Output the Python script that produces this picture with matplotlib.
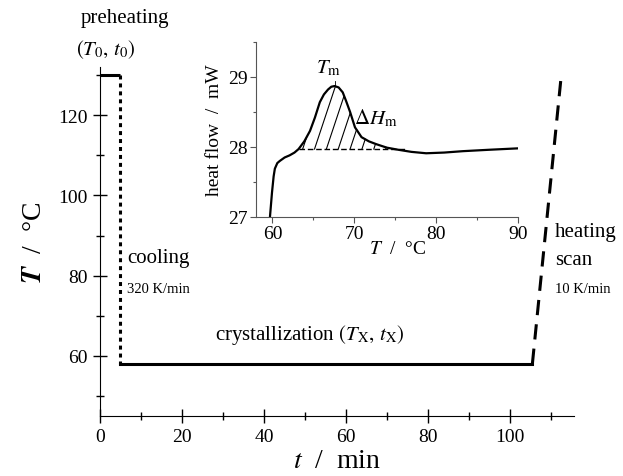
import numpy as np
import matplotlib
matplotlib.use("Agg")
import matplotlib.pyplot as plt
from matplotlib.ticker import MultipleLocator

plt.rcParams['font.family'] = ['Liberation Serif', 'DejaVu Serif']
plt.rcParams['mathtext.fontset'] = 'stix'

# temperature programme (time in min, T in degC)
preheat_t = [0, 5]
preheat_T = [130, 130]
cool_t = [5, 5]
cool_T = [130, 58]
cryst_t = [5, 105.5]
cryst_T = [58, 58]
heat_t = [105.5, 112.6]
heat_T = [58, 130.5]

# DSC melting curve (inset)
dsc_T = [59.7, 59.95, 60.15, 60.3, 60.6, 60.9, 61.5, 62.1, 62.7, 63.2, 63.9, 64.6,
         65.2, 65.8, 66.3, 66.8, 67.2, 67.6, 68.1, 68.6, 69.0, 69.5, 70.1, 70.9,
         71.8, 72.7, 74.0, 75.4, 77.0, 78.8, 81.0, 83.3, 86.5, 90.0]
dsc_hf = [27.00, 27.35, 27.58, 27.69, 27.77, 27.80, 27.85, 27.88, 27.92, 27.97, 28.08, 28.23,
          28.42, 28.64, 28.75, 28.82, 28.86, 28.87, 28.85, 28.78, 28.66, 28.50, 28.28, 28.14,
          28.08, 28.04, 27.99, 27.96, 27.93, 27.91, 27.92, 27.94, 27.96, 27.98]
base_hf = 27.97
base_T = [63.2, 76.5]
peak_T = 67.6
peak_hf = 28.87

fig = plt.figure(figsize=(6.23, 4.77), dpi=100)
ax = fig.add_axes([0.1605, 0.126, 0.7605, 0.731])

ax.plot(preheat_t, preheat_T, color='black', lw=2.2, solid_capstyle='butt')
ax.plot(cool_t, cool_T, color='black', lw=2.2, linestyle=(0, (1.3, 1.3)))
ax.plot(cryst_t, cryst_T, color='black', lw=2.2, solid_joinstyle='miter')
ax.plot(heat_t, heat_T, color='black', lw=2.2, linestyle=(0, (5, 3)))

ax.set_xlim(0, 115.6)
ax.set_ylim(45, 132)
ax.spines['top'].set_visible(False)
ax.spines['right'].set_visible(False)
ax.xaxis.set_major_locator(MultipleLocator(20))
ax.xaxis.set_minor_locator(MultipleLocator(10))
ax.yaxis.set_major_locator(MultipleLocator(20))
ax.yaxis.set_minor_locator(MultipleLocator(10))
ax.tick_params(which='major', direction='inout', length=10, width=1, labelsize=14, pad=4)
ax.tick_params(which='minor', direction='inout', length=6, width=1)
ax.set_xlabel('$t$  /  min', fontsize=20, labelpad=2)
ax.set_ylabel(r'$\mathbfit{T}$  /  °C', fontsize=20, labelpad=8)

ax.text(6.1, 144.3, 'preheating', fontsize=15, ha='center', va='center', clip_on=False)
ax.text(1.5, 136.6, '$(T_0,\\,t_0)$', fontsize=15, ha='center', va='center', clip_on=False)
ax.text(6.6, 84.4, 'cooling', fontsize=15, ha='left', va='center')
ax.text(6.6, 76.7, '320 K/min', fontsize=10.5, ha='left', va='center')
ax.text(28, 65.5, 'crystallization $(T_\\mathrm{X},\\,t_\\mathrm{X})$', fontsize=15,
        ha='left', va='center')
ax.text(111, 91, 'heating', fontsize=15, ha='left', va='center', clip_on=False)
ax.text(111, 84.1, 'scan', fontsize=15, ha='left', va='center', clip_on=False)
ax.text(111, 76.9, '10 K/min', fontsize=10.5, ha='left', va='center', clip_on=False)

# inset
ins = fig.add_axes([0.411, 0.543, 0.42, 0.367])
ins.plot(dsc_T, dsc_hf, color='black', lw=1.6)
ins.plot(base_T, [base_hf, base_hf], color='black', lw=1, linestyle=(0, (4, 2)))

# hatch lines between the peak and the baseline
xs = np.array(dsc_T)
ys = np.array(dsc_hf)
for s in np.arange(63.7, 76.5, 1.45):
    dy = np.linspace(0, 1.2, 600)
    lx = s + 2.85 * dy
    ly = base_hf + dy
    above = ly >= np.interp(lx, xs, ys)
    if not above.any():
        continue
    k = np.argmax(above)
    ins.plot([s, lx[k]], [base_hf, ly[k]], color='black', lw=0.8)

ins.plot([peak_T, peak_T], [peak_hf, peak_hf + 0.07], color='black', lw=0.6)
ins.text(66.9, 29.13, '$T_\\mathrm{m}$', fontsize=15, ha='center', va='center')
ins.text(72.6, 28.42, '$\\Delta H_\\mathrm{m}$', fontsize=15, ha='center', va='center')

ins.set_xlim(58, 90)
ins.set_ylim(27, 29.5)
ins.spines['top'].set_visible(False)
ins.spines['right'].set_visible(False)
for sp in ins.spines.values():
    sp.set_color('#555555')
    sp.set_linewidth(0.8)
ins.xaxis.set_major_locator(MultipleLocator(10))
ins.xaxis.set_minor_locator(MultipleLocator(5))
ins.yaxis.set_major_locator(MultipleLocator(1))
ins.yaxis.set_minor_locator(MultipleLocator(0.5))
ins.tick_params(which='major', direction='out', length=4, width=0.8, color='#555555',
                labelsize=14, pad=2)
ins.tick_params(which='minor', direction='out', length=2.5, width=0.8, color='#555555')
ins.set_xlabel('$T$  /  °C', fontsize=14, labelpad=1)
ins.xaxis.set_label_coords(0.54, -0.13)
ins.set_ylabel('heat flow  /  mW', fontsize=14, labelpad=4)
ins.patch.set_alpha(0)

fig.savefig('out.png', dpi=100)
